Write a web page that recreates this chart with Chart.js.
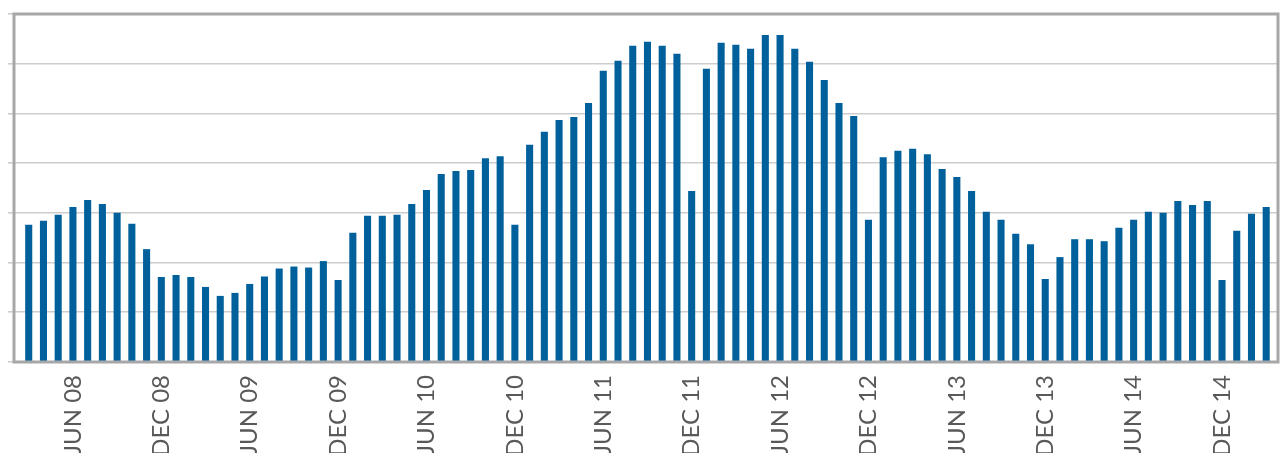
<!DOCTYPE html>
<html>
<head>
<meta charset="utf-8">
<script src="https://cdn.jsdelivr.net/npm/chart.js@4"></script>
<style>
  html, body { margin: 0; padding: 0; background: #fff; overflow: hidden; }
  #wrap { width: 1282px; height: 453px; position: relative; }
</style>
</head>
<body>
<div id="wrap"><canvas id="barChart"></canvas></div>
<script>
// monthly categories, MAR 08 .. MAR 15
const months = ['JAN', 'FEB', 'MAR', 'APR', 'MAY', 'JUN', 'JUL', 'AUG', 'SEP', 'OCT', 'NOV', 'DEC'];
const categories = [];
for (let i = 0; i < 85; i++) {
    const m = (2 + i) % 12;
    const y = 8 + Math.floor((2 + i) / 12);
    categories.push(months[m] + ' ' + String(y).padStart(2, '0'));
}

// values (one gridline = 1 unit)
const values = [
    2.76, 2.84, 2.96, 3.12, 3.26, 3.18, 3.00, 2.78, 2.27, 1.71,   // MAR 08 - DEC 08
    1.75, 1.71, 1.51, 1.33, 1.39, 1.57, 1.72, 1.88, 1.92, 1.90, 2.03, 1.65,   // 2009
    2.60, 2.94, 2.94, 2.96, 3.18, 3.46, 3.78, 3.84, 3.86, 4.10, 4.14, 2.76,   // 2010
    4.37, 4.63, 4.87, 4.93, 5.21, 5.86, 6.06, 6.36, 6.44, 6.36, 6.20, 3.44,   // 2011
    5.90, 6.42, 6.38, 6.30, 6.58, 6.58, 6.30, 6.04, 5.67, 5.21, 4.95, 2.86,   // 2012
    4.12, 4.25, 4.29, 4.18, 3.88, 3.72, 3.44, 3.02, 2.86, 2.58, 2.37, 1.67,   // 2013
    2.11, 2.47, 2.47, 2.43, 2.70, 2.86, 3.02, 3.00, 3.24, 3.16, 3.24, 1.65,   // 2014
    2.64, 2.98, 3.12                                                          // 2015
];

// only JUN and DEC get a label
const tickIndex = categories
    .map((c, i) => (c.startsWith('JUN') || c.startsWith('DEC')) ? i : -1)
    .filter(i => i >= 0);

const yTicks = [0, 1, 2, 3, 4, 5, 6, 7];

const frameColor = '#a7a7a9';

// grey frame around the plot area
const framePlugin = {
    id: 'frame',
    afterDatasetsDraw(chart) {
        const a = chart.chartArea;
        const ctx = chart.ctx;
        ctx.save();
        ctx.strokeStyle = frameColor;
        ctx.lineWidth = 3;
        ctx.beginPath();
        ctx.moveTo(a.left, a.bottom);
        ctx.lineTo(a.left, a.top);
        ctx.lineTo(a.right, a.top);
        ctx.lineTo(a.right, a.bottom);
        ctx.lineTo(a.left, a.bottom);
        ctx.closePath();
        ctx.stroke();
        ctx.restore();
    }
};

const ctx = document.getElementById('barChart').getContext('2d');
new Chart(ctx, {
    type: 'bar',
    data: {
        datasets: [{
            data: values.map((v, i) => ({ x: i, y: v })),
            backgroundColor: '#00609c',
            borderWidth: 0,
            categoryPercentage: 1,
            barPercentage: 0.48
        }]
    },
    options: {
        responsive: true,
        maintainAspectRatio: false,
        animation: false,
        layout: { padding: { top: 14, right: 4, left: 0, bottom: 0 } },
        plugins: {
            legend: { display: false },
            tooltip: { enabled: false }
        },
        scales: {
            x: {
                type: 'linear',
                offset: false,
                min: -1.0,
                max: 84.8,
                afterBuildTicks: (scale) => {
                    scale.ticks = tickIndex.map(v => ({ value: v }));
                },
                afterFit: (scale) => { scale.height = 91; },
                grid: { display: false, drawTicks: false, offset: false },
                border: { display: false },
                ticks: {
                    autoSkip: false,
                    minRotation: 90,
                    maxRotation: 90,
                    padding: 13,
                    color: '#595959',
                    font: { family: 'Lato', size: 24 },
                    callback: (v) => categories[v]
                }
            },
            y: {
                min: 0,
                max: 7,
                afterBuildTicks: (scale) => {
                    scale.ticks = yTicks.map(v => ({ value: v }));
                },
                afterFit: (scale) => { scale.width = 14; },
                grid: {
                    color: '#cdcdcd',
                    lineWidth: 1.6,
                    drawTicks: true,
                    tickLength: 6,
                    tickColor: '#cdcdcd'
                },
                border: { display: false },
                ticks: { display: false }
            }
        }
    },
    plugins: [framePlugin]
});
</script>
</body>
</html>
